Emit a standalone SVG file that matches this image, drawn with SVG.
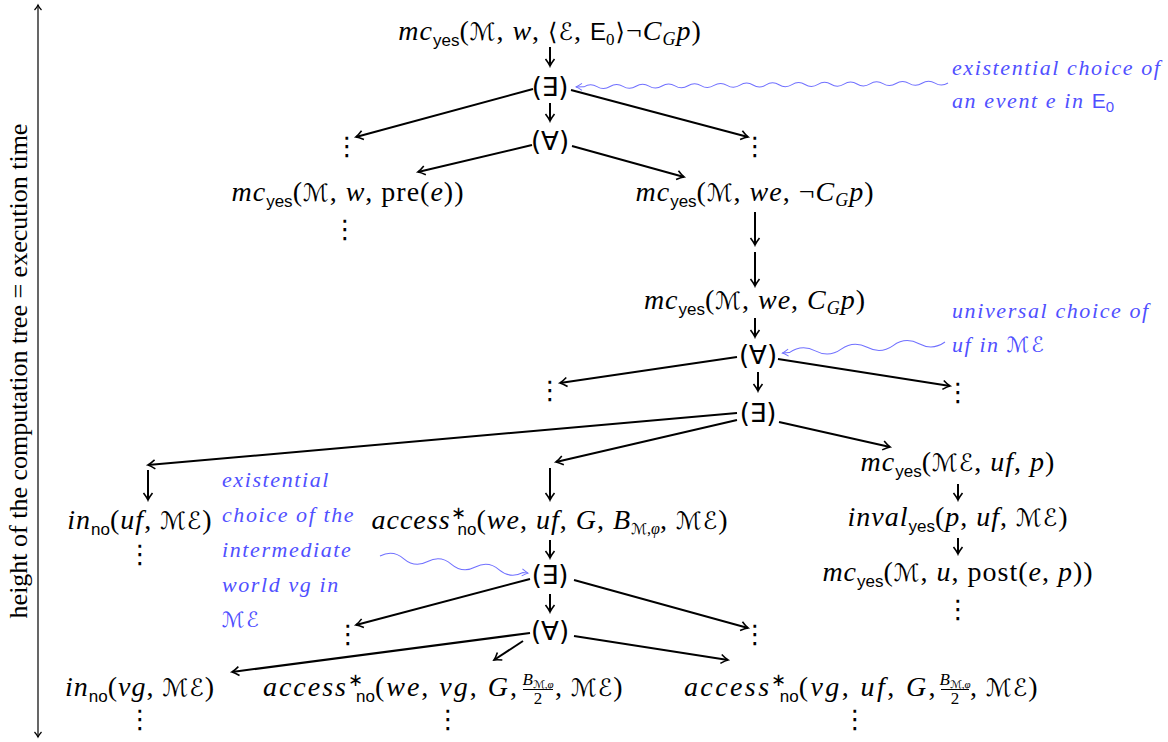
<svg xmlns="http://www.w3.org/2000/svg" width="1168" height="742" viewBox="0 0 1168 742">
<style>
.t{font-family:"Liberation Serif","Times New Roman",serif;font-size:28px;letter-spacing:1px;text-anchor:middle;fill:#000}
.i{font-style:italic}
.y{font-family:"Liberation Sans",sans-serif;font-size:17px;font-style:normal;letter-spacing:0}
.c{font-family:"DejaVu Sans",sans-serif;font-size:24px;font-style:normal}
.q{font-family:"DejaVu Sans",sans-serif;font-size:26px;text-anchor:middle;fill:#000}
.d{font-family:"DejaVu Sans",sans-serif;font-size:26px;text-anchor:middle;fill:#000}
.b{font-family:"Liberation Serif","Times New Roman",serif;font-style:italic;font-size:22px;fill:#5050ff;letter-spacing:1.6px}
.e{fill:none;stroke:#000;stroke-width:2}
.w{fill:none;stroke:#7070ff;stroke-width:1}
.wide{letter-spacing:2.4px}
</style>
<defs>
<marker id="a" viewBox="-10 -6 12 12" refX="0" refY="0" markerWidth="12" markerHeight="12" markerUnits="userSpaceOnUse" orient="auto">
<path d="M-7,-4.5 Q-2.5,-1 0,0 Q-2.5,1 -7,4.5" fill="none" stroke="#000" stroke-width="1.6"/>
</marker>
<marker id="s" viewBox="-8 -5 10 10" refX="0" refY="0" markerWidth="10" markerHeight="10" markerUnits="userSpaceOnUse" orient="auto-start-reverse">
<path d="M-5,-3.5 Q-2,-0.8 0,0 Q-2,0.8 -5,3.5" fill="none" stroke="#000" stroke-width="1.2"/>
</marker>
<marker id="bl" viewBox="-8 -5 10 10" refX="0" refY="0" markerWidth="10" markerHeight="10" markerUnits="userSpaceOnUse" orient="auto">
<path d="M-6,-3.5 Q-2,-0.8 0,0 Q-2,0.8 -6,3.5" fill="none" stroke="#7070ff" stroke-width="1"/>
</marker>
</defs>

<g id="axis">
<line x1="38" y1="5" x2="38" y2="737" stroke="#000" stroke-width="1.2" marker-start="url(#s)" marker-end="url(#s)"/>
<text transform="translate(27,371) rotate(-90)" font-family="Liberation Serif, serif" font-size="26" text-anchor="middle">height of the computation tree = execution time</text>
</g>

<g id="connectors">
<line class="e" x1="550" y1="47" x2="550" y2="66" marker-end="url(#a)"/>
<line class="e" x1="550" y1="103" x2="550" y2="121" marker-end="url(#a)"/>
<line class="e" x1="533" y1="89" x2="356" y2="137" marker-end="url(#a)"/>
<line class="e" x1="571" y1="90" x2="748" y2="137" marker-end="url(#a)"/>
<line class="e" x1="532" y1="145" x2="418" y2="172" marker-end="url(#a)"/>
<line class="e" x1="572" y1="146" x2="684" y2="177" marker-end="url(#a)"/>
<line class="e" x1="755" y1="212" x2="755" y2="245" marker-end="url(#a)"/>
<line class="e" x1="755" y1="252" x2="755" y2="286" marker-end="url(#a)"/>
<line class="e" x1="755" y1="318" x2="755" y2="337" marker-end="url(#a)"/>
<line class="e" x1="737" y1="357" x2="560" y2="383" marker-end="url(#a)"/>
<line class="e" x1="778" y1="359" x2="950" y2="386" marker-end="url(#a)"/>
<line class="e" x1="758" y1="372" x2="758" y2="391" marker-end="url(#a)"/>
<line class="e" x1="737" y1="413" x2="148" y2="465" marker-end="url(#a)"/>
<line class="e" x1="737" y1="420" x2="556" y2="462" marker-end="url(#a)"/>
<line class="e" x1="779" y1="422" x2="890" y2="447" marker-end="url(#a)"/>
<line class="e" x1="148" y1="470" x2="148" y2="500" marker-end="url(#a)"/>
<line class="e" x1="550" y1="468" x2="550" y2="500" marker-end="url(#a)"/>
<line class="e" x1="958" y1="484" x2="958" y2="500" marker-end="url(#a)"/>
<line class="e" x1="958" y1="538" x2="958" y2="554" marker-end="url(#a)"/>
<line class="e" x1="550" y1="540" x2="550" y2="558" marker-end="url(#a)"/>
<line class="e" x1="530" y1="579" x2="356" y2="625" marker-end="url(#a)"/>
<line class="e" x1="574" y1="580" x2="748" y2="628" marker-end="url(#a)"/>
<line class="e" x1="550" y1="594" x2="550" y2="612" marker-end="url(#a)"/>
<line class="e" x1="530" y1="633" x2="232" y2="672" marker-end="url(#a)"/>
<line class="e" x1="523" y1="641" x2="494" y2="660" marker-end="url(#a)"/>
<line class="e" x1="574" y1="636" x2="728" y2="660" marker-end="url(#a)"/>
<g transform="translate(948,83) rotate(179.4)"><path class="w" marker-end="url(#bl)" d="M0,0 q6.5,-4 13,0 t13,0 t13,0 t13,0 t13,0 t13,0 t13,0 t13,0 t13,0 t13,0 t13,0 t13,0 t13,0 t13,0 t13,0 t13,0 t13,0 t13,0 t13,0 t13,0 t13,0 t13,0 t13,0 t13,0 t13,0 t13,0 t13,0 t13,0 l8,0"/></g>
<g transform="translate(945,342) rotate(176.1)"><path class="w" marker-end="url(#bl)" d="M0,0 q13,-8 26,0 t26,0 t26,0 t26,0 t26,0 t26,0 l7,0"/></g>
<g transform="translate(380,556) rotate(6.6)"><path class="w" marker-end="url(#bl)" d="M0,0 q12,-8 24,0 t24,0 t24,0 t24,0 t24,0 t24,0 l5,0"/></g>
</g>

<g id="n1"><text class="t" x="550" y="40"><tspan class="i">mc</tspan><tspan class="y" dy="6">yes</tspan><tspan dy="-6">(</tspan><tspan class="c">ℳ</tspan>, <tspan class="i">w</tspan>, <tspan class="c">⟨ℰ</tspan>, <tspan class="y" style="font-size:24px">E</tspan><tspan dy="5" style="font-size:17px">0</tspan><tspan class="c" dy="-5">⟩</tspan>¬<tspan class="i">C</tspan><tspan class="i" dy="5" style="font-size:18px">G</tspan><tspan class="i" dy="-5">p</tspan>)</text></g>
<g id="q1"><text class="q" x="550" y="96">(∃)</text></g>
<g id="q2"><text class="q" x="550" y="150">(∀)</text></g>
<g id="d1"><text class="d" x="347" y="155">⋮</text></g>
<g id="d2"><text class="d" x="755" y="155">⋮</text></g>
<g id="n2"><text class="t" x="348" y="201"><tspan class="i">mc</tspan><tspan class="y" dy="6">yes</tspan><tspan dy="-6">(</tspan><tspan class="c">ℳ</tspan>, <tspan class="i">w</tspan>, pre(<tspan class="i">e</tspan>))</text></g>
<g id="d3"><text class="d" x="345" y="238">⋮</text></g>
<g id="n3"><text class="t" x="755" y="201"><tspan class="i">mc</tspan><tspan class="y" dy="6">yes</tspan><tspan dy="-6">(</tspan><tspan class="c">ℳ</tspan>, <tspan class="i">we</tspan>, ¬<tspan class="i">C</tspan><tspan class="i" dy="5" style="font-size:18px">G</tspan><tspan class="i" dy="-5">p</tspan>)</text></g>
<g id="n4"><text class="t" x="755" y="309"><tspan class="i">mc</tspan><tspan class="y" dy="6">yes</tspan><tspan dy="-6">(</tspan><tspan class="c">ℳ</tspan>, <tspan class="i">we</tspan>, <tspan class="i">C</tspan><tspan class="i" dy="5" style="font-size:18px">G</tspan><tspan class="i" dy="-5">p</tspan>)</text></g>
<g id="q3"><text class="q" x="758" y="364">(∀)</text></g>
<g id="d4"><text class="d" x="550" y="399">⋮</text></g>
<g id="d5"><text class="d" x="958" y="401">⋮</text></g>
<g id="q4"><text class="q" x="758" y="422">(∃)</text></g>
<g id="n5"><text class="t" x="140" y="529"><tspan class="i">in</tspan><tspan class="y" dy="6">no</tspan><tspan dy="-6">(</tspan><tspan class="i">uf</tspan>, <tspan class="c">ℳℰ</tspan>)</text></g>
<g id="d6"><text class="d" x="140" y="563">⋮</text></g>
<g id="n6"><text class="t" x="550" y="529"><tspan class="i">access</tspan><tspan style="font-size:18px" dy="-10">∗</tspan><tspan class="y" dx="-9" dy="16">no</tspan><tspan dy="-6">(</tspan><tspan class="i">we</tspan>, <tspan class="i">uf</tspan>, <tspan class="i">G</tspan>, <tspan class="i">B</tspan><tspan dy="5" style="font-size:16px;letter-spacing:0"><tspan class="c" style="font-size:15px">ℳ</tspan>,<tspan class="i">φ</tspan></tspan><tspan dy="-5">, </tspan><tspan class="c">ℳℰ</tspan>)</text></g>
<g id="n7"><text class="t" x="958" y="471"><tspan class="i">mc</tspan><tspan class="y" dy="6">yes</tspan><tspan dy="-6">(</tspan><tspan class="c">ℳℰ</tspan>, <tspan class="i">uf</tspan>, <tspan class="i">p</tspan>)</text></g>
<g id="n8"><text class="t" x="958" y="526"><tspan class="i">inval</tspan><tspan class="y" dy="6">yes</tspan><tspan dy="-6">(</tspan><tspan class="i">p</tspan>, <tspan class="i">uf</tspan>, <tspan class="c">ℳℰ</tspan>)</text></g>
<g id="n9"><text class="t" x="958" y="581"><tspan class="i">mc</tspan><tspan class="y" dy="6">yes</tspan><tspan dy="-6">(</tspan><tspan class="c">ℳ</tspan>, <tspan class="i">u</tspan>, post(<tspan class="i">e</tspan>, <tspan class="i">p</tspan>))</text></g>
<g id="d7"><text class="d" x="958" y="618">⋮</text></g>
<g id="q5"><text class="q" x="550" y="584">(∃)</text></g>
<g id="d8"><text class="d" x="348" y="643">⋮</text></g>
<g id="d9"><text class="d" x="755" y="643">⋮</text></g>
<g id="q6"><text class="q" x="550" y="640">(∀)</text></g>
<g id="n10"><text class="t" x="140" y="696"><tspan class="i">in</tspan><tspan class="y" dy="6">no</tspan><tspan dy="-6">(</tspan><tspan class="i">vg</tspan>, <tspan class="c">ℳℰ</tspan>)</text></g>
<g id="d10"><text class="d" x="140" y="728">⋮</text></g>
<g id="n11">
<text class="t wide" x="519" y="696" style="text-anchor:end;letter-spacing:2px"><tspan class="i">access</tspan><tspan style="font-size:18px" dy="-10">∗</tspan><tspan class="y" dx="-9" dy="16">no</tspan><tspan dy="-6">(</tspan><tspan class="i">we</tspan>, <tspan class="i">vg</tspan>, <tspan class="i">G</tspan>,</text>
<text class="t" x="538" y="685" style="font-size:17px;letter-spacing:0"><tspan class="i">B</tspan><tspan dy="3" style="font-size:11px"><tspan class="c" style="font-size:11px">ℳ</tspan>,<tspan class="i">φ</tspan></tspan></text>
<line x1="523" y1="689.5" x2="553" y2="689.5" stroke="#000" stroke-width="1"/>
<text class="t" x="538" y="704" style="font-size:17px;letter-spacing:0">2</text>
<text class="t" x="555" y="696" style="text-anchor:start">, <tspan class="c">ℳℰ</tspan>)</text>
</g>
<g id="d11"><text class="d" x="448" y="728">⋮</text></g>
<g id="n12">
<text class="t wide" x="938" y="696" style="text-anchor:end"><tspan class="i">access</tspan><tspan style="font-size:18px" dy="-10">∗</tspan><tspan class="y" dx="-9" dy="16">no</tspan><tspan dy="-6">(</tspan><tspan class="i">vg</tspan>, <tspan class="i">uf</tspan>, <tspan class="i">G</tspan>,</text>
<text class="t" x="955" y="685" style="font-size:17px;letter-spacing:0"><tspan class="i">B</tspan><tspan dy="3" style="font-size:11px"><tspan class="c" style="font-size:11px">ℳ</tspan>,<tspan class="i">φ</tspan></tspan></text>
<line x1="941" y1="689.5" x2="969" y2="689.5" stroke="#000" stroke-width="1"/>
<text class="t" x="955" y="704" style="font-size:17px;letter-spacing:0">2</text>
<text class="t" x="970" y="696" style="text-anchor:start">, <tspan class="c">ℳℰ</tspan>)</text>
</g>
<g id="d12"><text class="d" x="855" y="728">⋮</text></g>

<g id="note1">
<text class="b" x="952" y="75">existential choice of</text>
<text class="b" x="952" y="108">an event e in <tspan style="font-family:'Liberation Sans',sans-serif;font-style:normal;font-size:21px;letter-spacing:0">E</tspan><tspan style="font-family:'Liberation Sans',sans-serif;font-style:normal;font-size:15px" dy="4">0</tspan></text>
</g>
<g id="note2">
<text class="b" x="952" y="318">universal choice of</text>
<text class="b" x="952" y="352">uf in <tspan class="c" style="fill:#5050ff;font-size:21px">ℳℰ</tspan></text>
</g>
<g id="note3">
<text class="b" x="222" y="487">existential</text>
<text class="b" x="222" y="522">choice of the</text>
<text class="b" x="222" y="557">intermediate</text>
<text class="b" x="222" y="592">world vg in</text>
<text class="b" x="222" y="627"><tspan class="c" style="fill:#5050ff;font-size:21px">ℳℰ</tspan></text>
</g>
</svg>
